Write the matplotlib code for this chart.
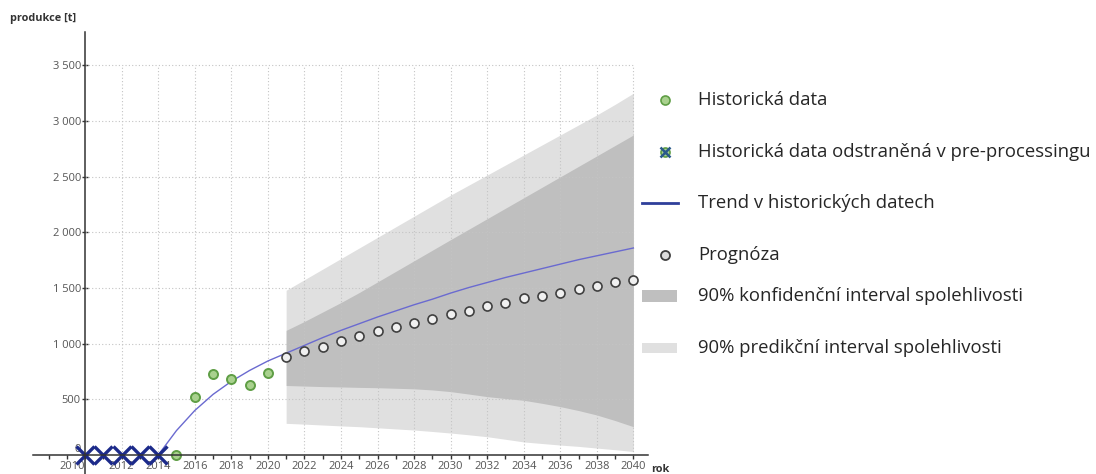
import matplotlib

matplotlib.use("Agg")
import matplotlib.pyplot as plt
from matplotlib.ticker import FuncFormatter, MultipleLocator

plt.rcParams["font.family"] = ["Open Sans", "DejaVu Sans"]

# data
removed_years = [2010, 2011, 2012, 2013, 2014]
removed_values = [0, 0, 0, 0, 0]

hist_years = [2015, 2016, 2017, 2018, 2019, 2020]
hist_values = [0, 524, 727, 682, 631, 736]

trend_years = list(range(2014, 2041))
trend_values = [0, 220, 400, 545, 662, 760, 845, 915, 985, 1055, 1120, 1180,
                1240, 1295, 1350, 1400, 1455, 1505, 1550, 1595, 1635, 1675,
                1715, 1755, 1790, 1825, 1860]

forecast_years = list(range(2021, 2041))
forecast_values = [880, 933, 975, 1023, 1068, 1113, 1149, 1188, 1221, 1266,
                   1296, 1335, 1370, 1409, 1430, 1454, 1490, 1517, 1553, 1571]

conf_lo = [625, 620, 615, 612, 608, 605, 600, 595, 585, 570,
           548, 525, 508, 492, 465, 435, 400, 360, 310, 255]
conf_hi = [1120, 1200, 1285, 1370, 1460, 1555, 1650, 1745, 1840, 1935,
           2029, 2123, 2217, 2311, 2405, 2499, 2593, 2687, 2781, 2875]
pred_lo = [285, 278, 270, 262, 255, 245, 235, 225, 212, 198,
           182, 165, 142, 118, 104, 90, 78, 63, 48, 32]
pred_hi = [1480, 1575, 1670, 1765, 1860, 1955, 2050, 2145, 2240, 2335,
           2425, 2515, 2605, 2695, 2785, 2875, 2965, 3055, 3150, 3250]

legend_labels = [
    "Historická data",
    "Historická data odstraněná v pre-processingu",
    "Trend v historických datech",
    "Prognóza",
    "90% konfidenční interval spolehlivosti",
    "90% predikční interval spolehlivosti",
]

W, H = 1096, 474
C_PRED = "#e0e0e0"
C_CONF = "#bfbfbf"
C_TREND = "#6a6ad0"
C_NAVY = "#1c2a8a"
GREEN_FACE, GREEN_EDGE = "#a9d18e", "#5f9e45"
GRID = "#c4c4c4"

fig = plt.figure(figsize=(W / 100, H / 100), dpi=100)
ax = fig.add_axes([33 / W, 0, (648 - 33) / W, (H - 32) / H])
ax.set_xlim(2007.15, 2040.8)
ax.set_ylim(-170, 3800)

# intervals
ax.fill_between(forecast_years, pred_lo, pred_hi, color=C_PRED, lw=0, zorder=1)
ax.fill_between(forecast_years, conf_lo, conf_hi, color=C_CONF, lw=0, zorder=1.5)

# dotted grid limited to the data area
for yv in range(500, 3501, 500):
    ax.plot([2010, 2040], [yv, yv], ls=(0, (1, 2)), color=GRID, lw=0.8, zorder=2)
for xv in range(2012, 2041, 2):
    ax.plot([xv, xv], [0, 3500], ls=(0, (1, 2)), color=GRID, lw=0.8, zorder=2)

ax.plot(trend_years, trend_values, color=C_TREND, lw=1.0, zorder=3)
ax.plot(hist_years, hist_values, "o", ms=6.5, mfc=GREEN_FACE, mec=GREEN_EDGE,
        mew=1.4, zorder=4)
ax.plot(forecast_years, forecast_values, "o", ms=6.5, mfc="#f0f0f0", mec="#404040",
        mew=1.2, zorder=4)
ax.plot(removed_years, removed_values, "x", ms=13, mec=C_NAVY, mew=2.4, zorder=5)

# axes look
for s in ("top", "right"):
    ax.spines[s].set_visible(False)
ax.spines["left"].set_position(("data", 2010))
ax.spines["bottom"].set_position(("data", 0))
for s in ("left", "bottom"):
    ax.spines[s].set_color("#333333")
    ax.spines[s].set_linewidth(1.1)
ax.spines["left"].set_zorder(6)
ax.spines["bottom"].set_zorder(6)

ax.set_yticks(range(0, 3501, 500))
ax.yaxis.set_major_formatter(FuncFormatter(lambda v, p: f"{int(v):,}".replace(",", " ")))
ax.xaxis.set_major_locator(MultipleLocator(2))
ax.xaxis.set_minor_locator(MultipleLocator(1))
ax.set_xticks(range(2010, 2041, 2))
ax.tick_params(axis="x", which="both", direction="out", length=3, width=1,
               color="#333333", labelsize=8, labelcolor="#555555", pad=1.5)
ax.tick_params(axis="y", direction="inout", length=4, width=1, color="#333333",
               labelsize=8, labelcolor="#555555", pad=1)
ax.get_xticklabels()[0].set_ha("right")
ax.get_yticklabels()[0].set_va("bottom")

fig.text(10 / W, 1 - 18 / H, "produkce [t]", fontsize=7.8, fontweight="bold",
         color="#333333", ha="left", va="center")
fig.text(651 / W, 1 - 470 / H, "rok", fontsize=7.8, fontweight="bold",
         color="#333333", ha="left", va="center")

# manual legend in pixel coordinates
lg = fig.add_axes([0, 0, 1, 1])
lg.set_xlim(0, W)
lg.set_ylim(H, 0)
lg.axis("off")
rows = [100, 152, 203, 255, 296, 348]
mx, tx = 665, 698
lg.plot(mx, rows[0], "o", ms=6.5, mfc=GREEN_FACE, mec=GREEN_EDGE, mew=1.2)
lg.plot(mx, rows[1], "o", ms=6.5, mfc=GREEN_FACE, mec=GREEN_EDGE, mew=1.2)
lg.plot(mx, rows[1], "x", ms=7, mec="#2a5a8a", mew=1.8)
lg.plot([642, 678], [rows[2], rows[2]], color="#2f3f9a", lw=2)
lg.plot(mx, rows[3], "o", ms=6.5, mfc="#dddddd", mec="#404040", mew=1.3)
lg.fill_between([642, 677], rows[4] - 6, rows[4] + 6, color=C_CONF, lw=0)
lg.fill_between([642, 677], rows[5] - 5, rows[5] + 5, color=C_PRED, lw=0)
for y, lab in zip(rows, legend_labels):
    lg.text(tx, y, lab, fontsize=13.3, color="#262626", ha="left", va="center")

fig.savefig("out.png", dpi=100)
